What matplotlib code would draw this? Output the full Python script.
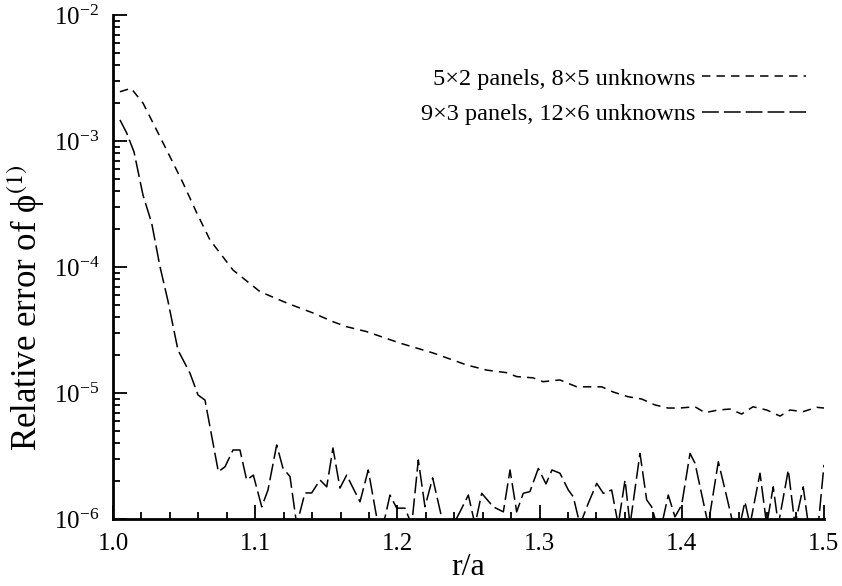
import numpy as np
import matplotlib
matplotlib.use("Agg")
import matplotlib.pyplot as plt
from matplotlib.ticker import LogLocator, MultipleLocator, AutoMinorLocator, FormatStrFormatter

plt.rcParams['font.family'] = ['Liberation Serif', 'DejaVu Serif']
plt.rcParams['mathtext.fontset'] = 'stix'
plt.rcParams['axes.unicode_minus'] = False

# 5x2 panels, 8x5 unknowns
r_coarse = [1.0049, 1.0127, 1.0211, 1.0307, 1.0401, 1.0492, 1.0589, 1.0682,
            1.0844, 1.1034, 1.1222, 1.1406, 1.1547, 1.1643, 1.1784, 1.2018,
            1.2250, 1.2487, 1.2628, 1.2769, 1.2839, 1.2954, 1.3024, 1.3143,
            1.3261, 1.3331, 1.3437, 1.3516, 1.3622, 1.3718, 1.3812, 1.3903,
            1.3987, 1.4093, 1.4163, 1.4255, 1.4339, 1.4421, 1.4501, 1.4597,
            1.4691, 1.4761, 1.4852, 1.4949, 1.5000]
err_coarse = [2.46e-3, 2.62e-3, 2.00e-3, 1.22e-3, 7.50e-4, 4.65e-4, 2.69e-4, 1.64e-4,
              9.46e-5, 6.37e-5, 5.18e-5, 4.32e-5, 3.68e-5, 3.36e-5, 3.07e-5, 2.49e-5,
              2.08e-5, 1.67e-5, 1.52e-5, 1.45e-5, 1.35e-5, 1.32e-5, 1.23e-5, 1.27e-5,
              1.12e-5, 1.12e-5, 1.12e-5, 1.02e-5, 9.35e-6, 8.96e-6, 8.04e-6, 7.60e-6,
              7.60e-6, 7.78e-6, 6.98e-6, 7.33e-6, 7.46e-6, 6.81e-6, 7.78e-6, 7.33e-6,
              6.56e-6, 7.33e-6, 7.11e-6, 7.70e-6, 7.60e-6]

# 9x3 panels, 12x6 unknowns
r_fine = [1.0049, 1.0096, 1.0148, 1.0211, 1.0272, 1.0331, 1.0385, 1.0457,
          1.0541, 1.0598, 1.0647, 1.0741, 1.0788, 1.0844, 1.0893, 1.0940,
          1.0987, 1.1046, 1.1090, 1.1151, 1.1195, 1.1245, 1.1292, 1.1350,
          1.1397, 1.1456, 1.1503, 1.1547, 1.1596, 1.1643, 1.1737, 1.1795,
          1.1854, 1.1901, 1.1948, 1.1995, 1.2053, 1.2101, 1.2147, 1.2194,
          1.2248, 1.2323, 1.2393, 1.2440, 1.2499, 1.2546, 1.2593, 1.2674,
          1.2745, 1.2792, 1.2839, 1.2885, 1.2932, 1.2991, 1.3045, 1.3087,
          1.3143, 1.3202, 1.3237, 1.3284, 1.3342, 1.3402, 1.3448, 1.3507,
          1.3553, 1.3601, 1.3636, 1.3706, 1.3753, 1.3788, 1.3824, 1.3859,
          1.3905, 1.3952, 1.3999, 1.4058, 1.4093, 1.4186, 1.4257, 1.4316,
          1.4362, 1.4409, 1.4444, 1.4480, 1.4550, 1.4597, 1.4643, 1.4679,
          1.4749, 1.4796, 1.4854, 1.4890, 1.4960, 1.5000]
err_fine = [1.47e-3, 1.16e-3, 8.18e-4, 3.72e-4, 2.23e-4, 1.00e-4, 5.47e-5, 2.19e-5,
            1.44e-5, 9.64e-6, 8.79e-6, 2.37e-6, 2.60e-6, 3.53e-6, 3.53e-6, 2.04e-6,
            2.23e-6, 1.25e-6, 1.70e-6, 3.87e-6, 2.54e-6, 2.17e-6, 9.0e-7, 1.61e-6,
            1.61e-6, 2.04e-6, 1.80e-6, 3.66e-6, 1.76e-6, 2.23e-6, 1.37e-6, 2.45e-6,
            1.04e-6, 9.0e-7, 1.55e-6, 1.22e-6, 1.22e-6, 9.0e-7, 2.94e-6, 1.25e-6,
            2.12e-6, 9.0e-7, 9.0e-7, 1.14e-6, 1.55e-6, 9.0e-7, 1.60e-6, 1.25e-6,
            1.14e-6, 2.45e-6, 1.14e-6, 1.60e-6, 1.65e-6, 2.52e-6, 1.90e-6, 2.45e-6,
            2.31e-6, 1.70e-6, 1.50e-6, 9.0e-7, 1.33e-6, 1.92e-6, 1.60e-6, 1.70e-6,
            9.0e-7, 2.04e-6, 9.0e-7, 3.32e-6, 1.42e-6, 1.25e-6, 9.0e-7, 9.0e-7,
            1.55e-6, 1.04e-6, 1.29e-6, 3.32e-6, 2.77e-6, 9.0e-7, 2.85e-6, 1.50e-6,
            9.0e-7, 9.0e-7, 1.37e-6, 9.0e-7, 2.31e-6, 9.0e-7, 1.80e-6, 9.0e-7,
            2.45e-6, 9.0e-7, 1.80e-6, 9.0e-7, 9.0e-7, 2.69e-6]

labels = ['5×2 panels, 8×5 unknowns', '9×3 panels, 12×6 unknowns']

fig = plt.figure(figsize=(8.42, 5.86), dpi=100)
ax = fig.add_axes([0.1342, 0.1143, 0.8444, 0.8601])

ax.plot(r_coarse, err_coarse, color='black', lw=1.1, dashes=(5.5, 4), label=labels[0])
ax.plot(r_fine, err_fine, color='black', lw=1.1, dashes=(11, 3.3), label=labels[1])

ax.set_yscale('log')
ax.set_xlim(1.0, 1.5)
ax.set_ylim(1e-6, 1e-2)
ax.xaxis.set_major_locator(MultipleLocator(0.1))
ax.xaxis.set_minor_locator(AutoMinorLocator(5))
ax.xaxis.set_major_formatter(FormatStrFormatter('%.1f'))
ax.yaxis.set_major_locator(LogLocator(base=10, numticks=10))
ax.yaxis.set_minor_locator(LogLocator(base=10, subs=np.arange(2, 10), numticks=10))

for side in ['top', 'right']:
    ax.spines[side].set_visible(False)
for side in ['left', 'bottom']:
    ax.spines[side].set_linewidth(2.0)

ax.tick_params(which='both', direction='in', width=1.3, labelsize=18)
ax.tick_params(which='major', length=10, pad=10)
ax.tick_params(which='minor', length=5)

ax.set_xlabel('r/a', fontsize=23)
ax.set_ylabel('Relative error of ϕ$^{(1)}$', fontsize=25)
ax.xaxis.set_label_coords(0.5, -0.068)
ax.yaxis.set_label_coords(-0.093, 0.42)

ax.legend(loc='upper right', bbox_to_anchor=(0.975, 0.895), frameon=False,
          markerfirst=False, fontsize=17.5, handlelength=4.3,
          handletextpad=0.25, labelspacing=0.55, borderpad=0, borderaxespad=0)

fig.savefig('out.png', dpi=100)
